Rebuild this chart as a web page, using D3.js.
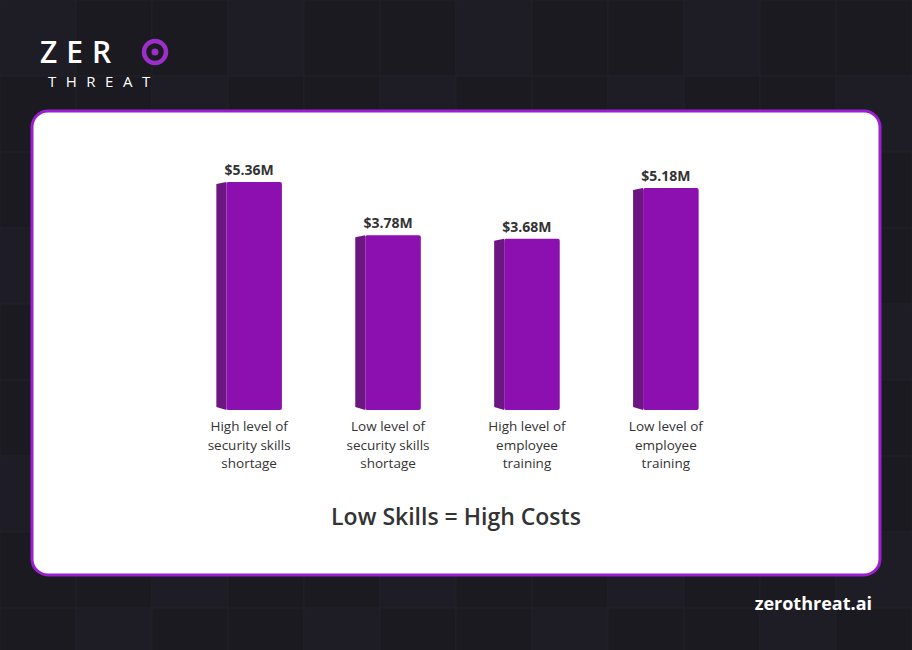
<!DOCTYPE html>
<html lang="en">
<head>
<meta charset="UTF-8">
<script src="https://d3js.org/d3.v7.min.js"></script>
<style>
  body { margin: 0; background: #1b1a21; }
  svg { display: block; font-family: "Open Sans", Lato, sans-serif; }
</style>
</head>
<body>
<div id="chart"></div>
<script>
const width = 912, height = 650;

// chart data
const categories = [
  ["High level of", "security skills", "shortage"],
  ["Low level of", "security skills", "shortage"],
  ["High level of", "employee", "training"],
  ["Low level of", "employee", "training"]
];
const costs = [5.36, 3.78, 3.68, 5.18];
const costLabels = ["$5.36M", "$3.78M", "$3.68M", "$5.18M"];

const svg = d3.select("#chart").append("svg")
  .attr("width", width).attr("height", height);

// dark background with faint grid tiles
const bg = svg.append("g");
bg.append("rect").attr("width", width).attr("height", height).attr("fill", "#1b1a21");
const tile = 76;
for (let i = 0; i < width / tile; i++) {
  for (let j = 0; j < height / tile; j++) {
    bg.append("rect")
      .attr("x", i * tile).attr("y", j * tile)
      .attr("width", tile).attr("height", tile)
      .attr("fill", (i + j) % 3 === 0 ? "#1e1d25" : "#1b1a21")
      .attr("stroke", "#212029").attr("stroke-width", 1);
  }
}

// logo
const logo = svg.append("g");
logo.append("text").attr("x", 40).attr("y", 63)
  .attr("fill", "#fff").attr("font-size", 30).attr("font-weight", 600)
  .attr("letter-spacing", 9).text("ZER");
logo.append("circle").attr("cx", 155).attr("cy", 52).attr("r", 11)
  .attr("fill", "none").attr("stroke", "#9a2fc9").attr("stroke-width", 4.5);
logo.append("circle").attr("cx", 155).attr("cy", 52).attr("r", 3.5).attr("fill", "#9a2fc9");
logo.append("text").attr("x", 48).attr("y", 87)
  .attr("fill", "#fff").attr("font-size", 15).attr("letter-spacing", 9.5).text("THREAT");

// card
svg.append("rect").attr("x", 32).attr("y", 111).attr("width", 848).attr("height", 464)
  .attr("rx", 16).attr("fill", "#fff").attr("stroke", "#9b1fd1").attr("stroke-width", 3);

// scales
const x = d3.scaleBand().domain(d3.range(costs.length)).range([143, 782]).padding(0.6);
const y = d3.scaleLinear().domain([-1.4, 5.36]).range([410, 182]);
const side = 10;

const bars = svg.append("g").selectAll("g").data(costs).join("g");
bars.append("path")
  .attr("d", (d, i) => {
    const x0 = x(i) - side, x1 = x(i), top = y(d);
    return `M${x0},${top + 2}L${x1},${top}L${x1},410L${x0},407Z`;
  })
  .attr("fill", "#6c1682");
bars.append("rect")
  .attr("x", (d, i) => x(i)).attr("y", d => y(d))
  .attr("width", x.bandwidth()).attr("height", d => 410 - y(d))
  .attr("rx", 2).attr("fill", "#8c0fb0");
bars.append("text")
  .attr("x", (d, i) => x(i) + x.bandwidth() / 2 - side / 2)
  .attr("y", d => y(d) - 7)
  .attr("text-anchor", "middle").attr("font-size", 14).attr("font-weight", 700)
  .attr("fill", "#333").text((d, i) => costLabels[i]);

// category labels
const labels = svg.append("g").selectAll("text").data(categories).join("text")
  .attr("text-anchor", "middle").attr("font-size", 13.5).attr("fill", "#333");
labels.selectAll("tspan").data((d, i) => d.map(l => ({ l, i }))).join("tspan")
  .attr("x", d => x(d.i) + x.bandwidth() / 2 - side / 2)
  .attr("y", (d, k) => 431 + k * 18.5)
  .text(d => d.l);

svg.append("text").attr("x", 456).attr("y", 525).attr("text-anchor", "middle")
  .attr("font-size", 23).attr("font-weight", 600).attr("fill", "#333")
  .text("Low Skills = High Costs");

svg.append("text").attr("x", 872).attr("y", 610).attr("text-anchor", "end")
  .attr("font-size", 18).attr("font-weight", 700).attr("fill", "#fff")
  .text("zerothreat.ai");
</script>
</body>
</html>
